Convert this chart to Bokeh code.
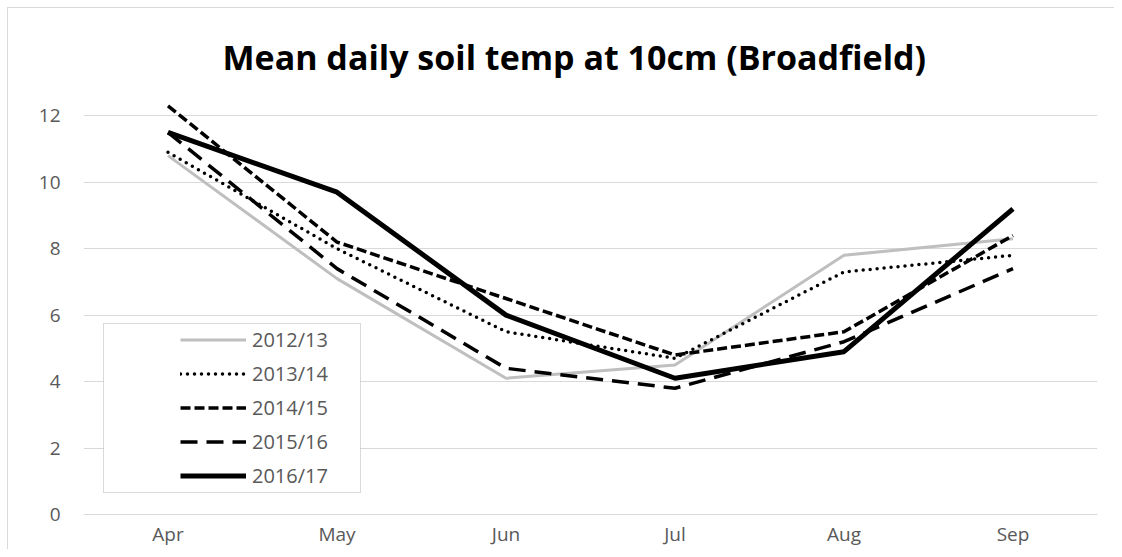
from bokeh.plotting import figure
from bokeh.models import FactorRange, Range1d, FixedTicker, Legend, LegendItem, BoxAnnotation, ColumnDataSource
from bokeh.embed import file_html
from bokeh.resources import INLINE

months = ["Apr", "May", "Jun", "Jul", "Aug", "Sep"]
s2012_13 = [10.8, 7.1, 4.1, 4.5, 7.8, 8.3]
s2013_14 = [10.9, 8.0, 5.5, 4.7, 7.3, 7.8]
s2014_15 = [12.3, 8.2, 6.5, 4.8, 5.5, 8.4]
s2015_16 = [11.5, 7.4, 4.4, 3.8, 5.2, 7.4]
s2016_17 = [11.5, 9.7, 6.0, 4.1, 4.9, 9.2]
series_names = ["2012/13", "2013/14", "2014/15", "2015/16", "2016/17"]
y_ticks = [0, 2, 4, 6, 8, 10, 12]

p = figure(width=1114, height=549, x_range=FactorRange(*months, range_padding=0),
           y_range=Range1d(0, 12.4), output_backend="svg", toolbar_location=None,
           min_border_left=83, min_border_right=17, min_border_top=102, min_border_bottom=35)
p.border_fill_alpha = 0
p.styles = {"box-shadow": "inset 7px 7px 0 0 #ffffff, inset 8px 8px 0 0 #d9d9d9"}

p.title.text = "Mean daily soil temp at 10cm (Broadfield)"
p.title.align = "left"
p.title.offset = 139
p.title.text_font = "Open Sans"
p.title.text_font_style = "bold"
p.title.text_font_size = "34px"
p.title.text_color = "#000000"
p.title.standoff = 46

p.outline_line_color = None
p.xgrid.grid_line_color = None
p.ygrid.grid_line_color = "#d9d9d9"
p.ygrid.grid_line_width = 1
p.yaxis.ticker = FixedTicker(ticks=y_ticks)
p.yaxis.axis_line_color = None
p.xaxis.axis_line_color = "#d9d9d9"
for ax in (p.xaxis, p.yaxis):
    ax.major_tick_line_color = None
    ax.minor_tick_line_color = None
    ax.major_tick_out = 0
    ax.major_tick_in = 0
    ax.minor_tick_out = 0
    ax.minor_tick_in = 0
    ax.major_label_text_font = "Open Sans"
    ax.major_label_text_font_size = "19px"
    ax.major_label_text_color = "#595959"
p.yaxis.major_label_standoff = 23
p.xaxis.major_label_standoff = 6

src = ColumnDataSource(dict(m=months, a=s2012_13, b=s2013_14, c=s2014_15, d=s2015_16, e=s2016_17))
r1 = p.line("m", "a", source=src, line_color="#bfbfbf", line_width=3)
r2 = p.line("m", "b", source=src, line_color="#000000", line_width=3.5, line_dash="0 7", line_cap="round")
r3 = p.line("m", "c", source=src, line_color="#000000", line_width=3.5, line_dash="10 4")
r4 = p.line("m", "d", source=src, line_color="#000000", line_width=3.5, line_dash="17 9")
r5 = p.line("m", "e", source=src, line_color="#000000", line_width=5)

box = BoxAnnotation(left=20, right=277, bottom=22, top=191,
                    left_units="screen", right_units="screen", bottom_units="screen", top_units="screen",
                    fill_color="#ffffff", fill_alpha=1, line_color="#808080", line_width=1)
p.add_layout(box)

legend = Legend(items=[LegendItem(label=n, renderers=[r]) for n, r in zip(series_names, [r1, r2, r3, r4, r5])],
                location=(97, 25), glyph_width=66, glyph_height=27, label_height=27, spacing=7,
                label_standoff=6, padding=0, margin=0, border_line_color=None, background_fill_alpha=0,
                label_text_font="Open Sans", label_text_font_size="20px", label_text_color="#595959")
p.add_layout(legend, "center")

open("out.html", "w").write(file_html(p, INLINE))
